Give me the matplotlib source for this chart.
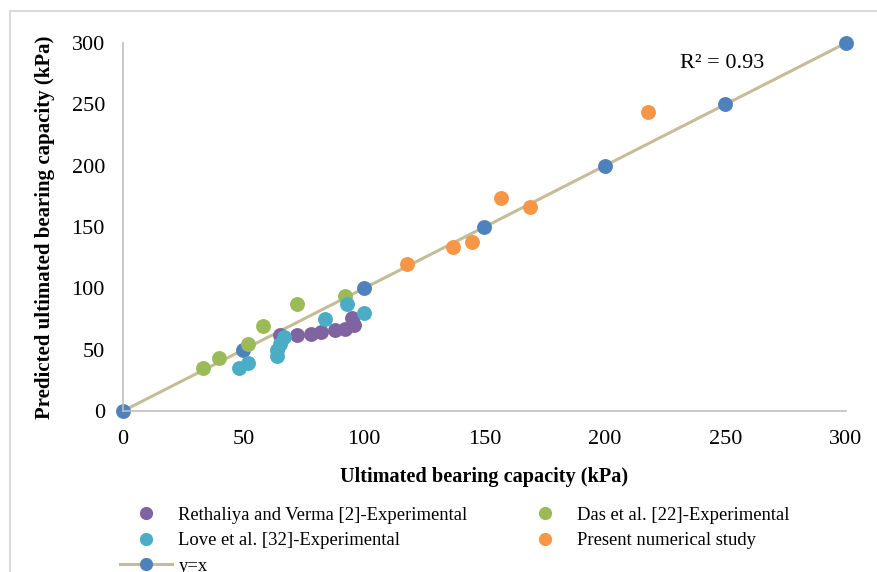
import matplotlib
matplotlib.use('Agg')
import matplotlib.pyplot as plt
from matplotlib.lines import Line2D
from matplotlib.patches import Rectangle

plt.rcParams['font.family'] = ['Liberation Serif', 'DejaVu Serif']

# Data
reth_x = [65, 72, 78, 82, 88, 92, 95, 96]
reth_y = [62, 62, 63, 64, 66, 67, 76, 70]

das_x = [33, 40, 52, 58, 72, 92]
das_y = [35, 43, 55, 69, 87, 94]

love_x = [48, 52, 64, 64, 65, 67, 84, 93, 100]
love_y = [35, 39, 45, 50, 55, 60, 75, 87, 80]

present_x = [118, 137, 145, 157, 169, 218]
present_y = [120, 134, 138, 174, 166, 244]

yx_vals = [0, 50, 100, 150, 200, 250, 300]

ticks = [0, 50, 100, 150, 200, 250, 300]

c_reth = '#8064A2'
c_das = '#9BBB59'
c_love = '#4BACC6'
c_present = '#F79646'
c_blue = '#4F81BD'
c_line = '#C4BD97'

fig = plt.figure(figsize=(8.78, 5.72), dpi=100)
ax = fig.add_axes([123/878, 1-411/572, 723/878, 368/572])

ms = 115
ax.plot(yx_vals, yx_vals, color=c_line, lw=2.2, zorder=1)
ax.scatter(yx_vals, yx_vals, s=ms, color=c_blue, zorder=2, clip_on=False, linewidths=0)
ax.scatter(reth_x, reth_y, s=ms, color=c_reth, zorder=3, linewidths=0)
ax.scatter(das_x, das_y, s=ms, color=c_das, zorder=4, linewidths=0)
ax.scatter(love_x, love_y, s=ms, color=c_love, zorder=5, linewidths=0)
ax.scatter(present_x, present_y, s=ms, color=c_present, zorder=6, linewidths=0)

ax.set_xlim(0, 300)
ax.set_ylim(0, 300)
ax.set_xticks(ticks)
ax.set_yticks(ticks)
ax.tick_params(length=0, labelsize=16)
ax.tick_params(axis='x', pad=14)
ax.tick_params(axis='y', pad=13)
for s in ['top', 'right']:
    ax.spines[s].set_visible(False)
for s in ['left', 'bottom']:
    ax.spines[s].set_color('#bfbfbf')
    ax.spines[s].set_linewidth(1.2)

ax.set_xlabel('Ultimated bearing capacity (kPa)', fontsize=14.6, fontweight='bold')
ax.set_ylabel('Predicted ultimated bearing capacity (kPa)', fontsize=15, fontweight='bold')
ax.xaxis.set_label_coords(0.5, -0.153)
ax.yaxis.set_label_coords(-0.094, 0.5)

ax.text(0.770, 0.945, 'R² = 0.93', transform=ax.transAxes, fontsize=16,
        ha='left', va='center')

# legend
lms = 8.5
h_reth = Line2D([], [], ls='none', marker='o', ms=lms, color=c_reth)
h_das = Line2D([], [], ls='none', marker='o', ms=lms, color=c_das)
h_love = Line2D([], [], ls='none', marker='o', ms=lms, color=c_love)
h_present = Line2D([], [], ls='none', marker='o', ms=lms, color=c_present)
h_yx = Line2D([], [], color=c_line, lw=2.2, marker='o', ms=lms, mfc=c_blue, mec=c_blue)
fig.legend([h_reth, h_love, h_yx, h_das, h_present],
           ['Rethaliya and Verma [2]-Experimental', 'Love et al. [32]-Experimental', 'y=x',
            'Das et al. [22]-Experimental', 'Present numerical study'],
           ncol=2, loc='upper left', bbox_to_anchor=(103/878, 1-490/572),
           frameon=False, fontsize=13.4, handlelength=2.8, columnspacing=2.75,
           labelspacing=0.45, handletextpad=0.35)

# chart area border (cropped at right and bottom)
fig.patches.append(Rectangle((10/878, -0.1), 1.0, (572-11)/572 + 0.1,
                             transform=fig.transFigure, fill=False,
                             edgecolor='#d9d9d9', lw=1.5))

fig.savefig('out.png', dpi=100)
